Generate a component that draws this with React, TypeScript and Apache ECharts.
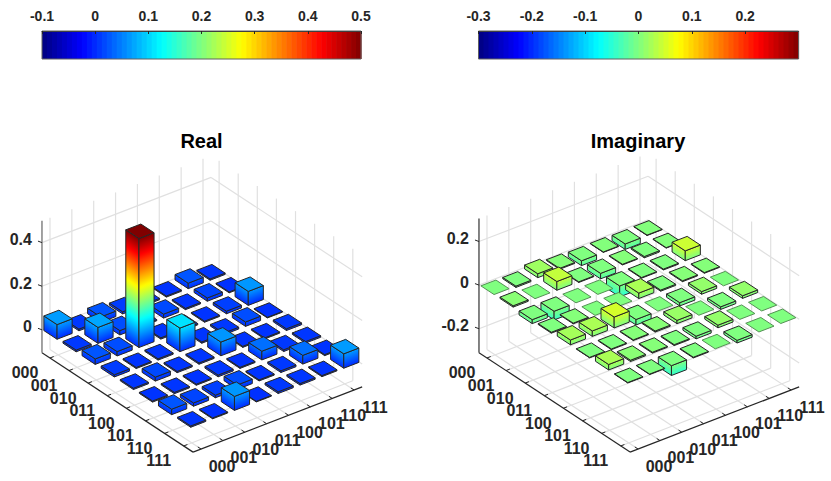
import React, { useEffect, useRef } from 'react';
import * as echarts from 'echarts';

const basisLabels = ['000', '001', '010', '011', '100', '101', '110', '111'];

const realValues = [
  [0.067, 0.008, 0.025, 0.01, 0.006, 0.005, 0.025, 0.006],
  [0.008, 0.073, 0.02, 0.005, 0.018, 0.006, 0.015, 0.004],
  [0.025, 0.02, 0.5, 0.006, 0.006, 0.005, 0.012, 0.064],
  [0.01, 0.005, 0.006, 0.108, 0.006, 0.008, 0.02, 0.003],
  [0.006, 0.018, 0.006, 0.006, 0.063, 0.005, 0.005, 0.008],
  [0.005, 0.006, 0.005, 0.008, 0.005, 0.04, 0.008, 0.007],
  [0.025, 0.015, 0.012, 0.02, 0.005, 0.008, 0.04, 0.005],
  [0.006, 0.004, 0.064, 0.003, 0.008, 0.007, 0.005, 0.066],
];

const imagValues = [
  [0, -0.006, 0.018, 0.004, -0.022, 0.002, -0.025, 0.002],
  [0.006, 0, 0.04, -0.003, -0.025, 0.003, -0.006, 0.002],
  [-0.018, -0.04, 0, 0, -0.05, -0.003, -0.004, 0.045],
  [-0.004, 0.003, 0, 0, 0.025, -0.005, 0.004, 0.003],
  [0.022, 0.025, 0.05, -0.025, 0, -0.015, 0.012, 0],
  [-0.002, -0.003, 0.003, 0.005, 0.015, 0, -0.012, 0.012],
  [0.025, 0.006, 0.004, -0.004, -0.012, 0.012, 0, 0],
  [-0.002, -0.002, -0.045, -0.003, 0, -0.012, 0, 0],
];

const realZTicks = [0, 0.2, 0.4];
const imagZTicks = [-0.2, 0, 0.2];

const FONT = '"Liberation Sans", Arial, sans-serif';
const INK = '#262626';
const HALF = 0.345;
const BANDS = 64;

type Panel = {
  ox: number;
  oy: number;
  zMin: number;
  zMax: number;
  cMin: number;
  cMax: number;
  zTicks: number[];
  zAxisColor: string;
};

const realPanel: Panel = { ox: 58, oy: 332, zMin: -0.105, zMax: 0.5, cMin: -0.1, cMax: 0.5, zTicks: realZTicks, zAxisColor: '#707070' };
const imagPanel: Panel = { ox: 495, oy: 287.3, zMin: -0.31, zMax: 0.305, cMin: -0.3, cMax: 0.3, zTicks: imagZTicks, zAxisColor: '#404040' };

const iMin = -0.42;
const iMax = 7.49;
const jMin = -0.366;
const jMax = 7.37;

const clamp = (v: number) => Math.max(0, Math.min(1, v));

const jet = (t: number) => {
  const r = clamp(Math.min(4 * t - 1.5, -4 * t + 4.5));
  const g = clamp(Math.min(4 * t - 0.5, -4 * t + 3.5));
  const b = clamp(Math.min(4 * t + 0.5, -4 * t + 2.5));
  return `rgb(${Math.round(r * 255)},${Math.round(g * 255)},${Math.round(b * 255)})`;
};

// oblique view of the matrix, in the units of the hidden scene axes
const project = (p: Panel, i: number, j: number, z: number) => [
  p.ox + 19.1 * i + 21.86 * j,
  p.oy + 12.57 * i - 8.43 * j - 218 * z,
];

const sideGradient = (p: Panel, a: number[], dir: number[], height: number, lo: number, hi: number) => {
  const len = Math.hypot(dir[0], dir[1]);
  const nx = -dir[1] / len;
  const ny = dir[0] / len;
  const dot = -height * ny;
  const steps = Math.max(2, Math.ceil(((hi - lo) / (p.cMax - p.cMin)) * BANDS) + 1);
  const stops = [];
  for (let k = 0; k < steps; k++) {
    const o = k / (steps - 1);
    stops.push({ offset: o, color: jet((lo + (hi - lo) * o - p.cMin) / (p.cMax - p.cMin)) });
  }
  return new echarts.graphic.LinearGradient(a[0], a[1], a[0] + nx * dot, a[1] + ny * dot, stops, true);
};

const barRenderer = (p: Panel) => (_params: any, api: any) => {
  const i = api.value(0);
  const j = api.value(1);
  const v = api.value(2);
  const pt = (a: number, b: number, z: number) => api.coord(project(p, a, b, z));
  const top = Math.max(v, 0);
  const bottom = Math.min(v, 0);
  const t = (z: number) => (z - p.cMin) / (p.cMax - p.cMin);
  const i0 = i - HALF;
  const i1 = i + HALF;
  const j0 = j - HALF;
  const j1 = j + HALF;
  const children: any[] = [];
  if (v !== 0) {
    const stroke = { stroke: INK, lineWidth: 1 };
    const height = pt(i, j, bottom)[1] - pt(i, j, top)[1];
    const l0 = pt(i0, j0, bottom);
    const l1 = pt(i1, j0, bottom);
    const r1 = pt(i1, j1, bottom);
    children.push({
      type: 'polygon',
      shape: { points: [l0, l1, pt(i1, j0, top), pt(i0, j0, top)] },
      style: { fill: sideGradient(p, l0, [l1[0] - l0[0], l1[1] - l0[1]], height, bottom, top), ...stroke },
    });
    children.push({
      type: 'polygon',
      shape: { points: [l1, r1, pt(i1, j1, top), pt(i1, j0, top)] },
      style: { fill: sideGradient(p, l1, [r1[0] - l1[0], r1[1] - l1[1]], height, bottom, top), ...stroke },
    });
  }
  children.push({
    type: 'polygon',
    shape: { points: [pt(i0, j0, top), pt(i1, j0, top), pt(i1, j1, top), pt(i0, j1, top)] },
    style: {
      fill: jet(t(top)),
      stroke: v === 0 ? '#559055' : INK,
      lineWidth: 1,
    },
  });
  return { type: 'group', children };
};

const frameRenderer = (p: Panel) => (_params: any, api: any) => {
  const pt = (a: number, b: number, z: number) => api.coord(project(p, a, b, z));
  const line = (a: number[], b: number[], stroke: string, lineWidth = 1.2) => ({
    type: 'line',
    shape: { x1: a[0], y1: a[1], x2: b[0], y2: b[1] },
    style: { stroke, lineWidth },
  });
  const label = (text: string, x: number, y: number, align: string) => ({
    type: 'text',
    style: { text, x, y, align, verticalAlign: 'middle', fill: INK, font: `bold 16px ${FONT}` },
  });
  const grid = '#e0e0e0';
  const children: any[] = [];
  basisLabels.forEach((_, k) => {
    children.push(line(pt(k, jMin, p.zMin), pt(k, jMax, p.zMin), grid));
    children.push(line(pt(iMin, k, p.zMin), pt(iMax, k, p.zMin), grid));
    children.push(line(pt(iMin, k, p.zMin), pt(iMin, k, p.zMax), grid));
    children.push(line(pt(k, jMax, p.zMin), pt(k, jMax, p.zMax), grid));
  });
  p.zTicks.forEach((z) => {
    children.push(line(pt(iMin, jMin, z), pt(iMin, jMax, z), grid));
    children.push(line(pt(iMin, jMax, z), pt(iMax, jMax, z), grid));
  });
  children.push(line(pt(iMin, jMin, p.zMin), pt(iMax, jMin, p.zMin), INK));
  children.push(line(pt(iMax, jMin, p.zMin), pt(iMax, jMax, p.zMin), INK));
  children.push(line(pt(iMin, jMin, p.zMin), pt(iMin, jMin, p.zMax), p.zAxisColor, 1.3));
  basisLabels.forEach((text, k) => {
    children.push(line(pt(k, jMin, p.zMin), pt(k, jMin + 0.17, p.zMin), INK, 1));
    children.push(line(pt(iMax, k, p.zMin), pt(iMax - 0.17, k, p.zMin), INK, 1));
    const a = pt(k, jMin, p.zMin);
    children.push(label(text, a[0] - 25, a[1] + 15, 'center'));
    const b = pt(iMax, k, p.zMin);
    children.push(label(text, b[0] + 21, b[1] + 17, 'center'));
  });
  p.zTicks.forEach((z) => {
    const a = pt(iMin, jMin, z);
    children.push(line(a, [a[0] - 4, a[1] - 1.5], INK, 1));
    children.push(label(String(z), a[0] - 10, a[1] - 3, 'right'));
  });
  return { type: 'group', children };
};

const cellsOf = (values: number[][]) =>
  values
    .flatMap((row, i) => row.map((v, j) => [i, j, v]))
    .sort((a, b) => a[0] - a[1] - (b[0] - b[1]));

const colorbarSeries = (p: Panel, axis: number) => ({
  type: 'custom',
  xAxisIndex: axis,
  yAxisIndex: axis,
  clip: false,
  silent: true,
  z: 1,
  data: Array.from({ length: BANDS }, (_, k) => [k]),
  renderItem: (_params: any, api: any) => {
    const k = api.value(0);
    const w = (p.cMax - p.cMin) / BANDS;
    const a = api.coord([p.cMin + k * w, 1]);
    const b = api.coord([p.cMin + (k + 1) * w, 0]);
    return {
      type: 'rect',
      shape: { x: a[0], y: a[1], width: b[0] - a[0] + 0.6, height: b[1] - a[1] },
      style: { fill: jet((k + 0.5) / BANDS) },
    };
  },
});

const colorbarAxis = (p: Panel, gridIndex: number, showMaxLabel: boolean) => ({
  type: 'value',
  gridIndex,
  position: 'top',
  min: p.cMin,
  max: p.cMax,
  interval: 0.1,
  z: 5,
  splitLine: { show: false },
  axisLine: { show: true, onZero: false, lineStyle: { color: '#404040', width: 1 } },
  axisTick: { show: true, inside: true, length: 3, lineStyle: { color: INK } },
  axisLabel: { showMaxLabel, showMinLabel: true, margin: 8, color: INK, fontFamily: FONT, fontWeight: 'bold', fontSize: 14 },
});

const hiddenY = (gridIndex: number) => ({ type: 'value', gridIndex, min: 0, max: 1, show: false });

const title = (text: string, left: number) => ({
  text,
  left: left - 5,
  top: 126,
  textAlign: 'center',
  textStyle: { fontFamily: FONT, fontWeight: 'bold', fontSize: 20, color: '#000' },
});

const sceneSeries = (p: Panel, values: number[][]) => [
  {
    type: 'custom',
    xAxisIndex: 2,
    yAxisIndex: 2,
    clip: false,
    silent: true,
    data: [[0]],
    renderItem: frameRenderer(p),
  },
  {
    type: 'custom',
    xAxisIndex: 2,
    yAxisIndex: 2,
    clip: false,
    silent: true,
    data: cellsOf(values),
    renderItem: barRenderer(p),
  },
];

export default function App() {
  const containerRef = useRef<HTMLDivElement>(null);

  useEffect(() => {
    if (!containerRef.current) return;
    const chart = echarts.init(containerRef.current, undefined, { renderer: 'svg' });
    chart.setOption({
      animation: false,
      backgroundColor: '#fff',
      title: [title('Real', 201.5), title('Imaginary', 638)],
      grid: [
        { left: 42, top: 31, width: 319, height: 28, show: true, borderColor: '#606060', borderWidth: 1, backgroundColor: 'transparent', z: 4 },
        { left: 478.5, top: 31, width: 320, height: 28, show: true, borderColor: '#606060', borderWidth: 1, backgroundColor: 'transparent', z: 4 },
        { left: 0, top: 0, width: 831, height: 481 },
      ],
      xAxis: [
        colorbarAxis(realPanel, 0, true),
        colorbarAxis(imagPanel, 1, false),
        { type: 'value', gridIndex: 2, min: 0, max: 831, show: false },
      ],
      yAxis: [
        hiddenY(0),
        hiddenY(1),
        { type: 'value', gridIndex: 2, min: 0, max: 481, inverse: true, show: false },
      ],
      series: [
        colorbarSeries(realPanel, 0),
        colorbarSeries(imagPanel, 1),
        ...sceneSeries(realPanel, realValues),
        ...sceneSeries(imagPanel, imagValues),
      ],
    });
    return () => chart.dispose();
  }, []);

  return <div ref={containerRef} style={{ position: 'absolute', left: 0, top: 0, width: 831, height: 481 }} />;
}
